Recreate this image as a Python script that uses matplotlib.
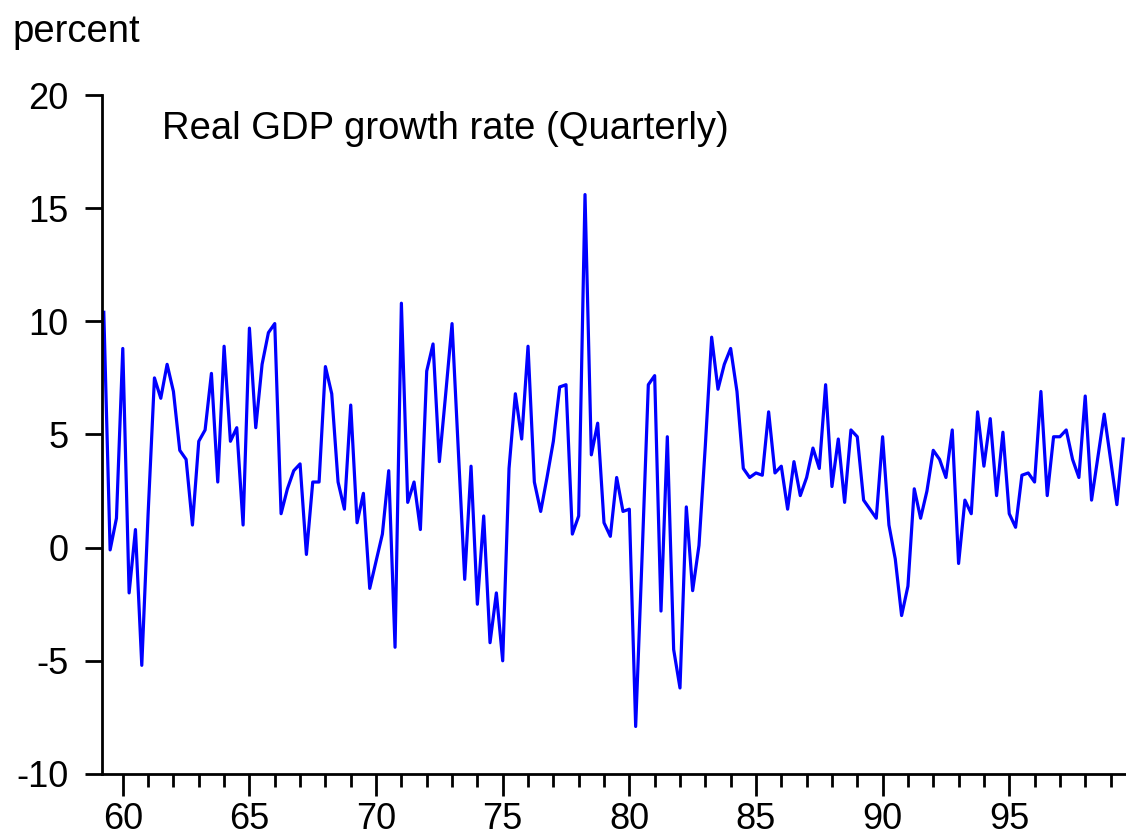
import numpy as np
import matplotlib
matplotlib.use('Agg')
import matplotlib.pyplot as plt
from matplotlib.ticker import MultipleLocator

plt.rcParams['font.family'] = ['Liberation Sans', 'DejaVu Sans']
plt.rcParams['axes.unicode_minus'] = False  # plain hyphen like "-10"

# quarterly real GDP growth rate (annualized, percent), 1959Q2 - 1999Q3
start_year = 1959
start_quarter = 2
growth = [
    10.4, -0.1, 1.3,
    8.8, -2.0, 0.8, -5.2,     # 1960
    1.5, 7.5, 6.6, 8.1,       # 1961
    6.9, 4.3, 3.9, 1.0,       # 1962
    4.7, 5.2, 7.7, 2.9,       # 1963
    8.9, 4.7, 5.3, 1.0,       # 1964
    9.7, 5.3, 8.1, 9.5,       # 1965
    9.9, 1.5, 2.6, 3.4,       # 1966
    3.7, -0.3, 2.9, 2.9,      # 1967
    8.0, 6.8, 2.9, 1.7,       # 1968
    6.3, 1.1, 2.4, -1.8,      # 1969
    -0.6, 0.6, 3.4, -4.4,     # 1970
    10.8, 2.0, 2.9, 0.8,      # 1971
    7.8, 9.0, 3.8, 6.8,       # 1972
    9.9, 4.2, -1.4, 3.6,      # 1973
    -2.5, 1.4, -4.2, -2.0,    # 1974
    -5.0, 3.5, 6.8, 4.8,      # 1975
    8.9, 2.9, 1.6, 3.1,       # 1976
    4.7, 7.1, 7.2, 0.6,       # 1977
    1.4, 15.6, 4.1, 5.5,      # 1978
    1.1, 0.5, 3.1, 1.6,       # 1979
    1.7, -7.9, -0.5, 7.2,     # 1980
    7.6, -2.8, 4.9, -4.5,     # 1981
    -6.2, 1.8, -1.9, 0.1,     # 1982
    4.5, 9.3, 7.0, 8.1,       # 1983
    8.8, 6.9, 3.5, 3.1,       # 1984
    3.3, 3.2, 6.0, 3.3,       # 1985
    3.6, 1.7, 3.8, 2.3,       # 1986
    3.1, 4.4, 3.5, 7.2,       # 1987
    2.7, 4.8, 2.0, 5.2,       # 1988
    4.9, 2.1, 1.7, 1.3,       # 1989
    4.9, 1.0, -0.5, -3.0,     # 1990
    -1.7, 2.6, 1.3, 2.5,      # 1991
    4.3, 3.9, 3.1, 5.2,       # 1992
    -0.7, 2.1, 1.5, 6.0,      # 1993
    3.6, 5.7, 2.3, 5.1,       # 1994
    1.5, 0.9, 3.2, 3.3,       # 1995
    2.9, 6.9, 2.3, 4.9,       # 1996
    4.9, 5.2, 3.9, 3.1,       # 1997
    6.7, 2.1, 4.0, 5.9,       # 1998
    3.9, 1.9, 4.8,            # 1999
]

year_ticks = [1960, 1965, 1970, 1975, 1980, 1985, 1990, 1995]
year_labels = ['60', '65', '70', '75', '80', '85', '90', '95']
y_ticks = [-10, -5, 0, 5, 10, 15, 20]

# time axis: year + (quarter-1)/4
t = start_year + (start_quarter - 1) / 4 + np.arange(len(growth)) / 4

fig = plt.figure(figsize=(11.26, 8.4), dpi=100)
ax = fig.add_axes([0.0906, 0.0786, 0.9094, 0.8083])

ax.plot(t, growth, color='#0000ff', linewidth=2.3)

ax.set_xlim(1959.18, 1999.61)
ax.set_ylim(-10, 20)

ax.set_xticks(year_ticks)
ax.set_xticklabels(year_labels)
ax.xaxis.set_minor_locator(MultipleLocator(1))
ax.set_yticks(y_ticks)

ax.spines['top'].set_visible(False)
ax.spines['right'].set_visible(False)
for s in ['left', 'bottom']:
    ax.spines[s].set_linewidth(2.0)

ax.tick_params(axis='x', which='major', direction='out', length=16, width=2.0,
               labelsize=26, pad=4)
ax.tick_params(axis='x', which='minor', direction='out', length=9.5, width=2.0)
ax.tick_params(axis='y', which='major', direction='out', length=12, width=2.0,
               labelsize=26, pad=12)

# labels on the figure (pixel positions measured from the top-left)
fig.text(12 / 1126, 1 - 42 / 840, 'percent', fontsize=27.5, ha='left', va='baseline')
fig.text(162 / 1126, 1 - 139 / 840, 'Real GDP growth rate (Quarterly)', fontsize=27.5,
         ha='left', va='baseline')

fig.savefig('out.png', dpi=100)
